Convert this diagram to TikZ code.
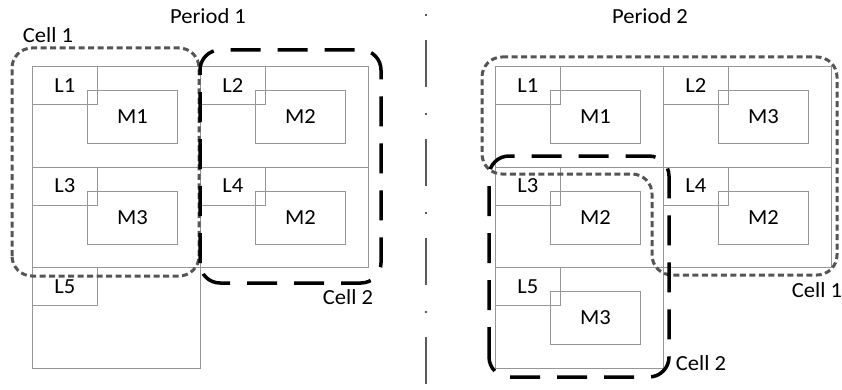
\documentclass[tikz,border=0pt]{standalone}
\usepackage{fontspec}
\setmainfont[FakeStretch=1.05]{Carlito}
\usepackage{tikz}
\usetikzlibrary{positioning}
\definecolor{gridgray}{RGB}{150,150,150}
\definecolor{dotgray}{RGB}{85,85,85}
\definecolor{divgray}{RGB}{90,90,90}
\tikzset{
  cellbox/.style={rectangle, draw=gridgray, line width=0.9pt, inner sep=0pt,
    minimum width=168pt, minimum height=100.5pt, anchor=north west},
  lbox/.style={rectangle, draw=gridgray, line width=0.9pt, inner sep=0pt,
    minimum width=65pt, minimum height=38pt},
  mbox/.style={rectangle, draw=gridgray, line width=0.9pt, inner sep=0pt,
    minimum width=90pt, minimum height=53pt},
  dotcell/.style={draw=dotgray, line width=3pt, rounded corners=20pt,
    dash pattern=on 6pt off 3.5pt},
  dashcell/.style={draw=black, line width=3.5pt, rounded corners=20pt,
    dash pattern=on 30pt off 17pt},
  divider/.style={draw=divgray, line width=2.8pt,
    dash pattern=on 2pt off 24pt on 47pt off 26pt},
  lbl/.style={inner sep=0pt}
}

\begin{document}
\begin{tikzpicture}[x=1pt, y=1pt, every node/.style={font=\fontsize{21.5}{25}\selectfont}]
  \useasboundingbox (0,0) rectangle (842,389);

  % Period 1 layout
  \node[cellbox] (p1c1) at (32,323) {};
  \node[cellbox] (p1c2) at (200,323) {};
  \node[cellbox] (p1c3) at (32,222.5) {};
  \node[cellbox] (p1c4) at (200,222.5) {};
  \node[cellbox] (p1c5) at (32,122) {};
  \node[lbox, below right=0pt and 0pt of p1c1.north west] (p1l1) {L1};
  \node[lbox, below right=0pt and 0pt of p1c2.north west] (p1l2) {L2};
  \node[lbox, below right=0pt and 0pt of p1c3.north west] (p1l3) {L3};
  \node[lbox, below right=0pt and 0pt of p1c4.north west] (p1l4) {L4};
  \node[lbox, below right=0pt and 0pt of p1c5.north west] (p1l5) {L5};
  \node[mbox, below right=24pt and 55pt of p1c1.north west] (p1m1) {M1};
  \node[mbox, below right=24pt and 55pt of p1c2.north west] (p1m2) {M2};
  \node[mbox, below right=24pt and 55pt of p1c3.north west] (p1m3) {M3};
  \node[mbox, below right=24pt and 55pt of p1c4.north west] (p1m4) {M2};
  \node[lbl] (per1) at (208,373) {Period 1};

  % Period 1 cells
  \draw[dotcell] (12,113) rectangle (199,341);
  \draw[dashcell] (200,106) rectangle (381,339);
  \node[lbl] (p1cell1) at (48,354) {Cell 1};
  \node[lbl] (p1cell2) at (348,92) {Cell 2};

  % Divider between periods
  \draw[divider] (426,375) -- (426,0);

  % Period 2 layout
  \node[cellbox] (p2c1) at (495,323) {};
  \node[cellbox] (p2c2) at (663,323) {};
  \node[cellbox] (p2c3) at (495,222.5) {};
  \node[cellbox] (p2c4) at (663,222.5) {};
  \node[cellbox] (p2c5) at (495,122) {};
  \node[lbox, below right=0pt and 0pt of p2c1.north west] (p2l1) {L1};
  \node[lbox, below right=0pt and 0pt of p2c2.north west] (p2l2) {L2};
  \node[lbox, below right=0pt and 0pt of p2c3.north west] (p2l3) {L3};
  \node[lbox, below right=0pt and 0pt of p2c4.north west] (p2l4) {L4};
  \node[lbox, below right=0pt and 0pt of p2c5.north west] (p2l5) {L5};
  \node[mbox, below right=24pt and 55pt of p2c1.north west] (p2m1) {M1};
  \node[mbox, below right=24pt and 55pt of p2c2.north west] (p2m2) {M3};
  \node[mbox, below right=24pt and 55pt of p2c3.north west] (p2m3) {M2};
  \node[mbox, below right=24pt and 55pt of p2c4.north west] (p2m4) {M2};
  \node[mbox, below right=24pt and 55pt of p2c5.north west] (p2m5) {M3};
  \node[lbl] (per2) at (650,373) {Period 2};

  % Period 2 cells
  \draw[dotcell] (482,332) -- (837,332) -- (837,114) -- (652,114)
    -- (652,215) -- (482,215) -- cycle;
  \draw[dashcell] (489,12) rectangle (669,233);
  \node[lbl] (p2cell1) at (817,99) {Cell 1};
  \node[lbl] (p2cell2) at (701,26) {Cell 2};
\end{tikzpicture}
\end{document}
